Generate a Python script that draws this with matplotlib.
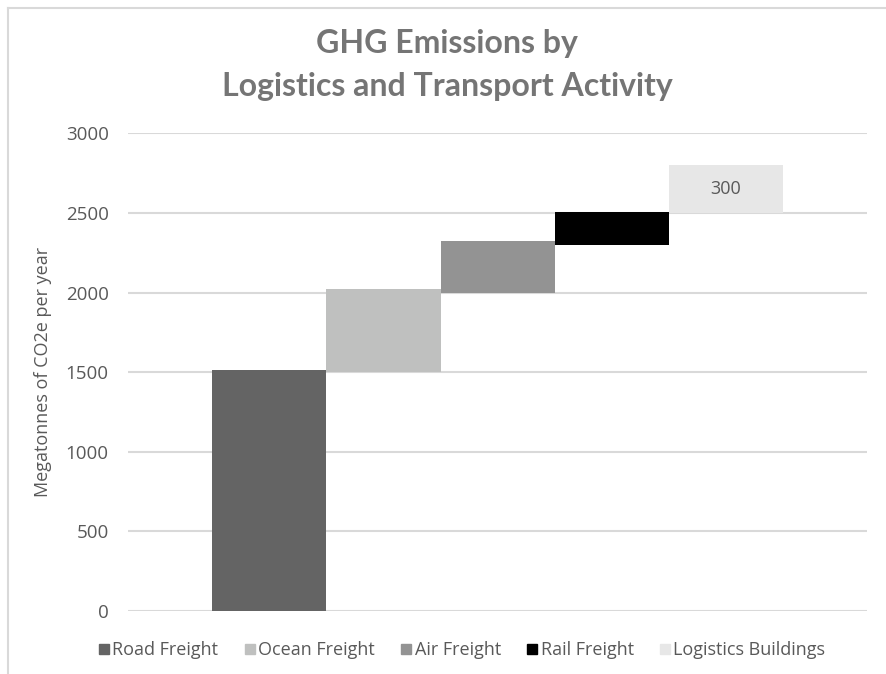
import matplotlib.pyplot as plt
from matplotlib.lines import Line2D

plt.rcParams['font.family'] = ['Open Sans', 'DejaVu Sans']

# waterfall: each activity sits on an invisible base
activities = ['Road Freight', 'Ocean Freight', 'Air Freight', 'Rail Freight', 'Logistics Buildings']
bases = [0, 1500, 2000, 2300, 2500]
values = [1515, 525, 325, 205, 300]
colors = ['#646464', '#bfc0bf', '#939393', '#000000', '#e7e7e7']
label_value = 300
y_ticks = [0, 500, 1000, 1500, 2000, 2500, 3000]

text_grey = '#595959'

fig = plt.figure(figsize=(8.86, 6.74), dpi=100)
ax = fig.add_axes([0.1445, 0.0935, 0.8341, 0.7085])

xs = list(range(len(activities)))
for x, b, v, c, name in zip(xs, bases, values, colors, activities):
    ax.bar(x, v, bottom=b, width=1.0, color=c, label=name, zorder=3)

# data label on the last bar
ax.text(xs[-1], bases[-1] + values[-1] / 2, str(label_value), ha='center', va='center',
        fontsize=13, color=text_grey, zorder=4)

ax.set_xlim(-0.5 - 0.74, len(activities) - 0.5 + 0.74)
ax.set_ylim(0, 3000)
ax.set_yticks(y_ticks)
ax.set_xticks([])
ax.yaxis.grid(True, color='#d9d9d9', linewidth=1.5, zorder=0)
ax.set_axisbelow(True)
for s in ax.spines.values():
    s.set_visible(False)
ax.tick_params(axis='y', length=0, pad=14, labelsize=13.5, labelcolor=text_grey)
ax.set_ylabel('Megatonnes of CO2e per year', fontsize=13, color=text_grey, labelpad=10)

title_kw = dict(ha='center', va='center', fontsize=23, fontweight='bold',
                color='#757575', family=['Lato', 'DejaVu Sans'])
fig.text(0.505, 0.935, 'GHG Emissions by', **title_kw)
fig.text(0.505, 0.872, 'Logistics and Transport Activity', **title_kw)

handles = [Line2D([], [], marker='s', linestyle='none', markersize=6.5,
                  markerfacecolor=c, markeredgecolor=c) for c in colors]
fig.legend(handles, activities, loc='center', bbox_to_anchor=(0.52, 0.035), ncol=5,
           frameon=False, fontsize=13, labelcolor=text_grey, handletextpad=0.0,
           columnspacing=1.3, handlelength=0.9)

# chart border (top and left edges visible in the reference)
fig.add_artist(Line2D([0.009, 1.0], [0.988, 0.988], transform=fig.transFigure,
                      color='#d9d9d9', linewidth=1.5))
fig.add_artist(Line2D([0.009, 0.009], [0.0, 0.988], transform=fig.transFigure,
                      color='#d9d9d9', linewidth=1.5))

fig.savefig('out.png', dpi=100)
